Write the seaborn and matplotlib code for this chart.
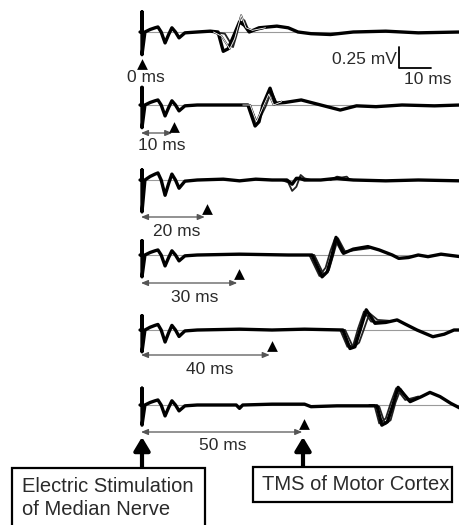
import numpy as np
import pandas as pd
import matplotlib
matplotlib.use("Agg")
import matplotlib.pyplot as plt
import seaborn as sns
from matplotlib.patches import Rectangle

sns.set_theme(style="white")
plt.rcParams["font.family"] = ["Liberation Sans", "DejaVu Sans"]

# ---------------- data (ms, mV) ----------------
DELAYS_MS = [0, 10, 20, 30, 40, 50]
DELAY_LABELS = ["0 ms", "10 ms", "20 ms", "30 ms", "40 ms", "50 ms"]

# stimulus artefact (vertical spike at 0 ms), per row
ART_UP = [0.24, 0.21, 0.12, 0.17, 0.17, 0.20]
ART_DN = [-0.27, -0.27, -0.38, -0.26, -0.26, -0.24]

# early response to median-nerve stimulation (same shape in every row)
EARLY_T = [0.9, 2.5, 4.0, 4.9, 5.9, 7.1, 8.2, 9.2, 10.3, 11.4, 13.2]
EARLY_V = [0.0, 0.03, 0.05, 0.06, 0.0, -0.13, -0.03, 0.05, 0.0, -0.07, -0.01]
EARLY_GAIN = [1.0, 1.0, 1.4, 1.0, 1.1, 1.0]

# main (thick) trace after the early response, one pair per row
ROW1_T = [17, 21, 23.4, 25.0, 26.5, 28.5, 30.0, 31.5, 33.0, 36, 41.5, 45, 48, 52, 58, 65, 75, 85, 98]
ROW1_V = [0.0, 0.01, 0.0, -0.23, -0.2, -0.02, 0.12, 0.08, 0.0, 0.05, 0.07, 0.05, 0.0, -0.02, -0.03, 0.0, 0.01, -0.01, 0.0]
ROW2_T = [17, 25, 32.6, 34.8, 36.0, 37.2, 39.4, 41.0, 44, 49, 55, 61, 66, 72, 80, 90, 98]
ROW2_V = [0.0, 0.0, 0.0, -0.25, -0.2, 0.0, 0.2, 0.02, 0.03, 0.06, 0.0, -0.06, -0.01, -0.02, 0.0, -0.01, 0.0]
ROW3_T = [17, 25, 30, 35, 40, 44.6, 46.2, 47.5, 48.5, 50, 55, 60, 62, 65, 75, 85, 98]
ROW3_V = [0.0, 0.01, -0.01, 0.01, 0.0, 0.0, -0.05, 0.02, 0.02, 0.0, 0.0, 0.02, 0.01, 0.0, -0.01, 0.0, -0.01]
ROW4_T = [17, 30, 45, 52.3, 55.4, 57.0, 58.5, 59.7, 62.0, 65, 69.5, 73, 77, 79, 82, 85, 88, 92, 98]
ROW4_V = [0.0, 0.01, 0.0, 0.0, -0.26, -0.2, 0.0, 0.21, 0.02, 0.07, 0.1, 0.06, 0.0, -0.04, -0.03, 0.0, -0.02, 0.01, -0.02]
ROW5_T = [17, 30, 40, 50, 61.8, 64.0, 65.5, 67.1, 69.0, 71.7, 75, 78.5, 81, 84.6, 89.5, 93, 96, 98]
ROW5_V = [0.0, 0.01, 0.0, 0.01, 0.0, -0.22, -0.2, 0.0, 0.24, 0.08, 0.09, 0.12, 0.07, 0.0, -0.08, -0.05, 0.0, 0.0]
ROW6_T = [17, 25, 29, 30, 31, 40, 50, 52, 60, 72.3, 73.8, 75.5, 77.2, 78.8, 82.5, 86, 88.6, 91.7, 95, 98]
ROW6_V = [0.0, 0.0, 0.0, -0.04, 0.0, 0.01, 0.01, -0.02, -0.01, -0.01, -0.24, -0.2, 0.0, 0.21, 0.04, 0.1, 0.15, 0.1, 0.02, -0.04]

# other superimposed trials (MEP part only)
TRIAL_A1_T = [22, 24.5, 27.0, 28.5, 30.5, 32, 34, 38]
TRIAL_A1_V = [0.0, -0.05, -0.2, -0.08, 0.2, 0.05, 0.02, 0.05]
TRIAL_B1_T = [22, 25.5, 28.0, 29.0, 30.0, 31.5, 33, 38]
TRIAL_B1_V = [0.0, -0.02, -0.18, -0.05, 0.1, 0.14, 0.0, 0.05]
TRIAL_A2_T = [31, 33.3, 35.2, 37.5, 39.0, 40.5, 43]
TRIAL_A2_V = [0.0, 0.0, -0.2, 0.0, 0.13, 0.0, 0.04]
TRIAL_B2_T = [31, 33.0, 35.5, 38.0, 39.8, 41.5, 43]
TRIAL_B2_V = [0.0, 0.0, -0.22, -0.02, 0.16, 0.02, 0.04]
TRIAL_A3_T = [43, 45, 46.2, 47.5, 48.8, 50, 52]
TRIAL_A3_V = [0.0, -0.03, -0.13, -0.08, 0.06, 0.02, 0.0]
TRIAL_B3_T = [58, 60, 61.5, 63, 64]
TRIAL_B3_V = [0.0, 0.04, 0.03, 0.04, 0.0]
TRIAL_A4_T = [50, 51.5, 54.6, 56.5, 58.0, 59.3, 61.5, 66, 70]
TRIAL_A4_V = [0.0, 0.0, -0.25, -0.15, 0.05, 0.19, 0.03, 0.07, 0.09]
TRIAL_B4_T = [50, 53, 56, 57.5, 59, 60.3, 62.5, 66, 70]
TRIAL_B4_V = [0.0, 0.0, -0.24, -0.18, 0.02, 0.2, 0.04, 0.06, 0.08]
TRIAL_A5_T = [60, 61, 63.2, 65, 66.5, 68.3, 70.5, 74]
TRIAL_A5_V = [0.0, 0.0, -0.2, -0.18, 0.02, 0.22, 0.1, 0.1]
TRIAL_B5_T = [60, 62.5, 65.0, 66.8, 68.2, 70.0, 72.5, 76]
TRIAL_B5_V = [0.0, 0.0, -0.21, -0.15, 0.0, 0.2, 0.12, 0.11]
TRIAL_A6_T = [70, 71.5, 73.0, 75, 76.5, 78.2, 81, 85]
TRIAL_A6_V = [0.0, 0.0, -0.22, -0.16, 0.02, 0.2, 0.06, 0.1]
TRIAL_B6_T = [70, 73.0, 74.8, 76.5, 78.0, 79.6, 82, 85]
TRIAL_B6_V = [0.0, -0.02, -0.23, -0.18, 0.03, 0.19, 0.05, 0.1]

SCALE_MV = 0.25
SCALE_MS = 10
SCALE_LABELS = ["0.25 mV", "10 ms"]
BOX_LABELS = ["Electric Stimulation\nof Median Nerve", "TMS of Motor Cortex"]

# ---------------- layout (pixel geometry of the reference) ----------------
W, H = 460, 525
X0_PX, PX_PER_MS, PX_PER_MV = 142, 3.25, 84.0


def X(px):
    return (px - X0_PX) / PX_PER_MS


def Y(py):
    return (H - py) / PX_PER_MV


ROW_BASE_PX = [32, 105, 180, 255, 330, 405]
OFFSETS = [Y(p) for p in ROW_BASE_PX]
TRI_Y_PX = [64, 127, 209, 274, 346, 424]
ARROW_Y_PX = [None, 133, 217, 283, 355, 432]
LABEL_POS_PX = [(146, 77), (162, 145), (177, 232), (195, 297), (210, 370), (223, 445)]

main_T = [ROW1_T, ROW2_T, ROW3_T, ROW4_T, ROW5_T, ROW6_T]
main_V = [ROW1_V, ROW2_V, ROW3_V, ROW4_V, ROW5_V, ROW6_V]
trials = [
    [(TRIAL_A1_T, TRIAL_A1_V), (TRIAL_B1_T, TRIAL_B1_V)],
    [(TRIAL_A2_T, TRIAL_A2_V), (TRIAL_B2_T, TRIAL_B2_V)],
    [(TRIAL_A3_T, TRIAL_A3_V), (TRIAL_B3_T, TRIAL_B3_V)],
    [(TRIAL_A4_T, TRIAL_A4_V), (TRIAL_B4_T, TRIAL_B4_V)],
    [(TRIAL_A5_T, TRIAL_A5_V), (TRIAL_B5_T, TRIAL_B5_V)],
    [(TRIAL_A6_T, TRIAL_A6_V), (TRIAL_B6_T, TRIAL_B6_V)],
]

rows_main, rows_trial = [], []
for r in range(6):
    t = [-0.6, 0.0, 0.0, 0.0] + EARLY_T + main_T[r]
    v = [0.0, 0.0, ART_UP[r], ART_DN[r]] + [EARLY_GAIN[r] * e for e in EARLY_V] + main_V[r]
    for i, (tt, vv) in enumerate(zip(t, v)):
        rows_main.append(dict(t=tt, y=vv + OFFSETS[r], trace=f"r{r}", order=i))
    for k, (tt_, vv_) in enumerate(trials[r]):
        for i, (tt, vv) in enumerate(zip(tt_, vv_)):
            rows_trial.append(dict(t=tt, y=vv + OFFSETS[r], trace=f"r{r}t{k}", row=r, k=k, order=i))

df_main = pd.DataFrame(rows_main)
df_trial = pd.DataFrame(rows_trial)

fig = plt.figure(figsize=(W / 100, H / 100), dpi=100)
ax = fig.add_axes([0, 0, 1, 1])
ax.set_xlim(X(0), X(W))
ax.set_ylim(Y(H), Y(0))
ax.axis("off")

# thin grey baselines
ax.hlines(OFFSETS, 0, X(460), color="#9a9a9a", lw=0.8, zorder=1)

# superimposed trials
sns.lineplot(data=df_trial, x="t", y="y", units="trace", estimator=None, sort=False,
             color="#222222", lw=1.3, ax=ax, legend=False, zorder=2,
             solid_joinstyle="round", solid_capstyle="round")
# main traces
sns.lineplot(data=df_main, x="t", y="y", units="trace", estimator=None, sort=False,
             color="black", lw=2.4, ax=ax, legend=False, zorder=3,
             solid_joinstyle="round", solid_capstyle="round")
# white-cored trials in the first two rows
core = df_trial[(df_trial["row"] <= 1) & (df_trial["k"] == 0)]
sns.lineplot(data=core, x="t", y="y", units="trace", estimator=None, sort=False,
             color="white", lw=0.6, ax=ax, legend=False, zorder=4)

txt_color = "#2a2a2a"
# TMS markers, interval arrows and labels
for r in range(6):
    d = DELAYS_MS[r]
    ax.scatter([d], [Y(TRI_Y_PX[r])], marker="^", s=60, color="black", zorder=6, linewidths=0)
    if ARROW_Y_PX[r] is not None:
        ax.annotate("", xy=(d - 0.7, Y(ARROW_Y_PX[r])), xytext=(X(141), Y(ARROW_Y_PX[r])),
                    arrowprops=dict(arrowstyle="<|-|>,head_length=0.6,head_width=0.25",
                                    color="#555555", lw=0.9, shrinkA=0, shrinkB=0,
                                    mutation_scale=7))
    lx, ly = LABEL_POS_PX[r]
    ax.text(X(lx), Y(ly), DELAY_LABELS[r], ha="center", va="center",
            fontsize=12.5, color=txt_color)

# scale bar
sx, sy = X(399), Y(68)
ax.plot([sx, sx, sx + SCALE_MS], [sy + SCALE_MV, sy, sy], color="black", lw=1.3)
ax.text(X(397), Y(59), SCALE_LABELS[0], ha="right", va="center", fontsize=12.5, color=txt_color)
ax.text(X(428), Y(80), SCALE_LABELS[1], ha="center", va="center", fontsize=12.5, color=txt_color)

# boxes
ax.add_patch(Rectangle((X(12), Y(530)), X(205) - X(12), Y(468) - Y(530),
                       fc="white", ec="black", lw=1.6, clip_on=False, zorder=5))
ax.add_patch(Rectangle((X(253), Y(502)), X(452) - X(253), Y(467) - Y(502),
                       fc="white", ec="black", lw=1.6, clip_on=False, zorder=5))
ax.text(X(22), Y(498), BOX_LABELS[0], ha="left", va="center", fontsize=14.5,
        color=txt_color, linespacing=1.25, zorder=6)
ax.text(X(262), Y(485), BOX_LABELS[1], ha="left", va="center", fontsize=14.5,
        color=txt_color, zorder=6)

# thick upward arrows
for px in (142, 303):
    ax.annotate("", xy=(X(px), Y(437)), xytext=(X(px), Y(468)),
                arrowprops=dict(arrowstyle="-|>,head_length=0.5,head_width=0.3",
                                color="black", lw=3, shrinkA=0, shrinkB=0,
                                mutation_scale=16))

fig.savefig("out.png", dpi=100)
